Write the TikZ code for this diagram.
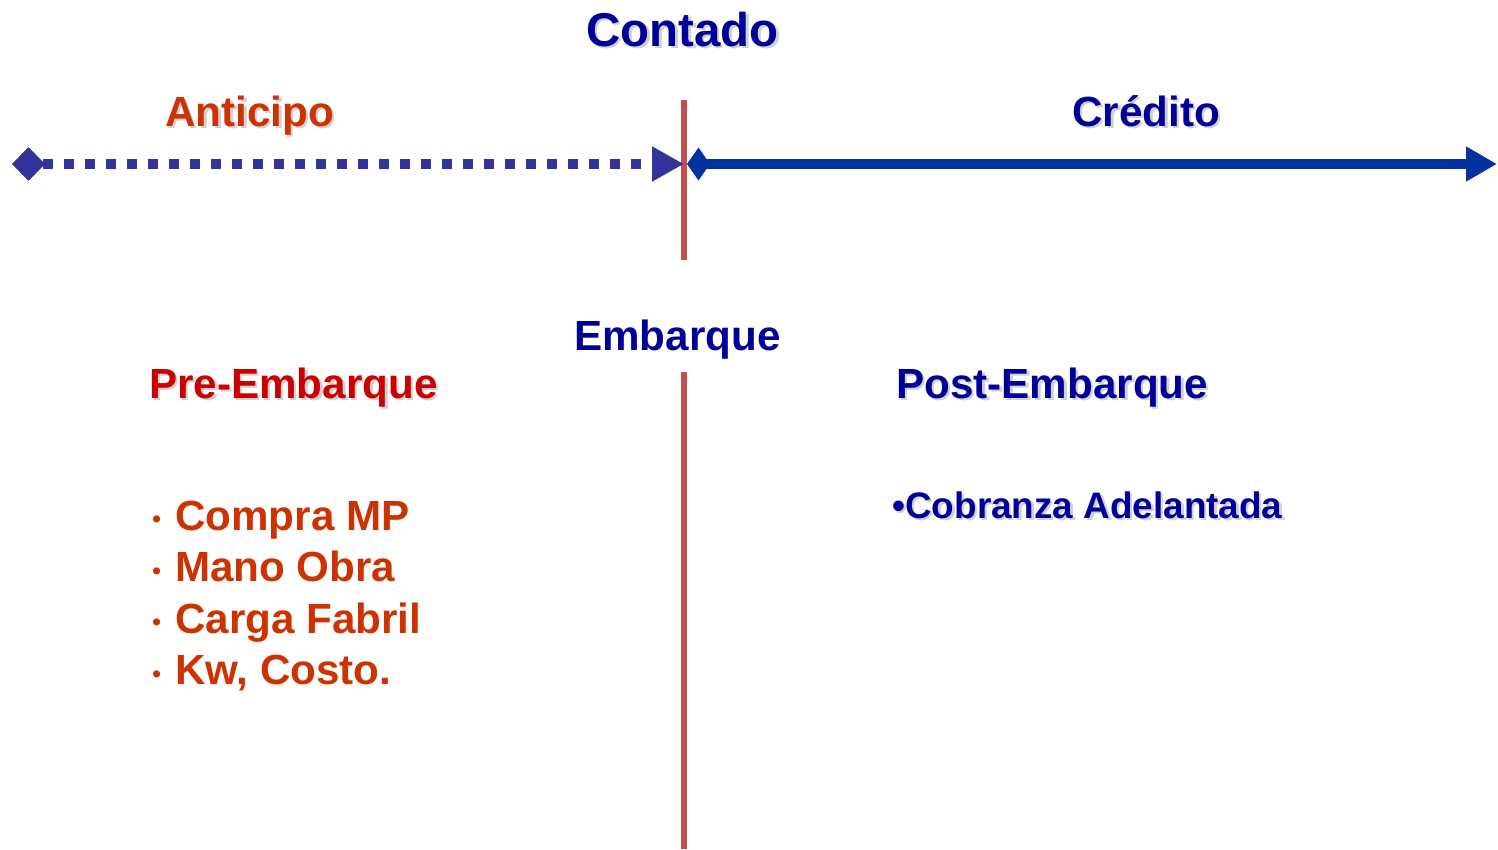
\documentclass[tikz,border=0pt]{standalone}
\usepackage{fontspec}
\setmainfont{Liberation Sans}
\usetikzlibrary{arrows.meta}

\definecolor{navy}{RGB}{0,0,153}
\definecolor{rust}{RGB}{204,51,0}
\definecolor{crimson}{RGB}{204,0,0}
\definecolor{slateblue}{RGB}{51,51,153}
\definecolor{royal}{RGB}{0,51,160}
\definecolor{divider}{RGB}{192,80,77}

%% soft drop shadow behind a title
\newcommand{\shadowed}[1]{\makebox[0pt][l]{\hspace{1.4pt}\raisebox{-1.4pt}{\textcolor{black!18}{#1}}}#1}
%% small list bullet
\newcommand{\bul}{\makebox[13pt][l]{\raisebox{1.2pt}{\fontsize{14}{14}\selectfont\textbullet}}}

\begin{document}
\begin{tikzpicture}[x=0.02cm,y=-0.02cm,
    label/.style={anchor=base west,inner sep=0pt,font=\bfseries\fontsize{24}{29}\selectfont},
    costitem/.style={label,text=rust},
    divline/.style={draw=divider,line width=3.6pt},
    timeline/.style={line width=5.7pt}]
    \useasboundingbox (0,0) rectangle (1498,849);
    %% NOTE:
    %% titles
    \node[label,text=navy,font=\bfseries\fontsize{27}{32}\selectfont] (contado) at (586,46) {\shadowed{Contado}};
    \node[label,text=rust] (anticipo) at (165,126) {\shadowed{Anticipo}};
    \node[label,text=navy] (credito) at (1072,126) {\shadowed{Crédito}};
    %% shipment point
    \coordinate (topA) at (684,100);
    \coordinate (topB) at (684,260);
    \coordinate (lowA) at (684,372);
    \coordinate (lowB) at (684,849);
    \draw[divline] (topA) -- (topB);
    \draw[divline] (lowA) -- (lowB);
    %% time lines
    \coordinate (antStart) at (12,164);
    \coordinate (antEnd) at (684,164);
    \coordinate (credStart) at (687,164);
    \coordinate (credEnd) at (1497,164);
    \draw[timeline,draw=slateblue,dash pattern=on 0.2cm off 0.22cm,dash phase=0.32cm,
        {Diamond[length=0.66cm,width=0.68cm]}-{Triangle[length=0.64cm,width=0.66cm]}] (antStart) -- (antEnd);
    \draw[timeline,draw=royal,
        {Diamond[length=0.46cm,width=0.66cm]}-{Triangle[length=0.62cm,width=0.66cm]}] (credStart) -- (credEnd);
    %% lower labels
    \node[label,text=navy] (embarque) at (574,350) {Embarque};
    \node[label,text=crimson] (pre) at (149,398) {\shadowed{Pre-Embarque}};
    \node[label,text=navy] (post) at (896,398) {\shadowed{Post-Embarque}};
    \node[label,text=navy,font=\bfseries\fontsize{21}{25}\selectfont] (cobranza) at (892,518) {\shadowed{•Cobranza Adelantada}};
    %% costs before shipment
    \foreach \cost [count=\i] in {Compra MP,Mano Obra,Carga Fabril,{Kw, Costo.}}
        \node[costitem] (cost\i) at (152,478.5+51.5*\i) {\bul\cost};
\end{tikzpicture}
\end{document}
